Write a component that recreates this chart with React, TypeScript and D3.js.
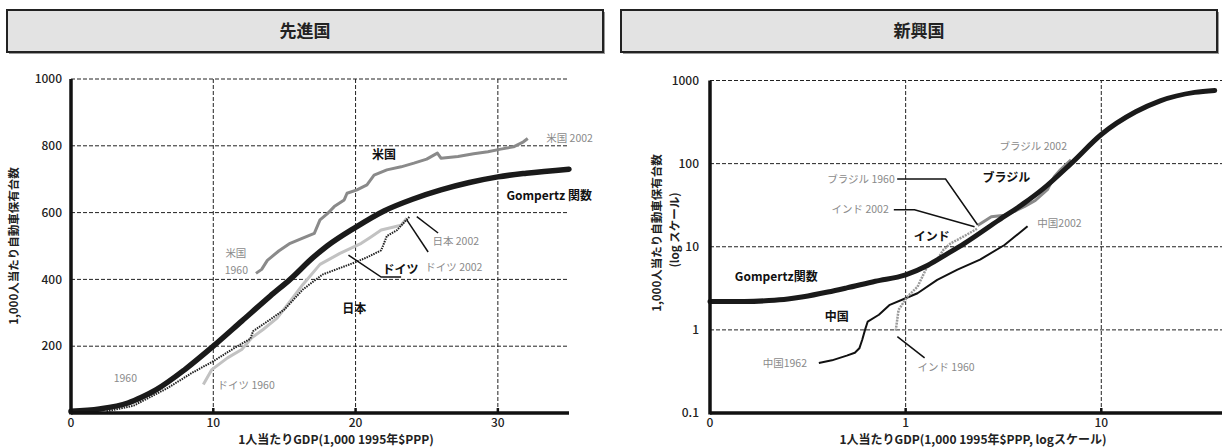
import React from "react";
import * as d3 from "d3";

// ---------- 先進国 (linear scales) ----------
const advXTicks = [0, 10, 20, 30];
const advYTicks = [200, 400, 600, 800, 1000];
const advYTickLabels = ["200", "400", "600", "800", "1000"];

const advGompertz: [number, number][] = [
  [0, 5], [2, 12], [4, 30], [5, 48], [6, 70], [8, 130], [10, 200], [12, 275],
  [14, 350], [15.4, 400], [17, 465], [18, 500], [20, 556], [22, 605], [24, 640],
  [26, 668], [28, 690], [30, 707], [32, 718], [35, 730],
];
const usa: [number, number][] = [
  [13.0, 418], [13.4, 430], [13.8, 457], [14.6, 485], [15.4, 508], [16.2, 522],
  [17.1, 538], [17.5, 578], [18.0, 596], [18.5, 618], [19.2, 638], [19.4, 658],
  [20.1, 668], [20.8, 683], [21.3, 712], [22.2, 728], [23.2, 737], [24.1, 748],
  [25.0, 760], [25.5, 772], [25.75, 778], [26.0, 763], [27.2, 768], [28.3, 776],
  [29.3, 782], [30.2, 790], [31.1, 797], [31.8, 812], [32.1, 822],
];
const germany: [number, number][] = [
  [9.3, 85], [9.9, 130], [11.0, 165], [12.0, 190], [12.7, 225], [13.5, 250],
  [14.5, 285], [15.5, 340], [16.3, 385], [17.5, 445], [18.9, 478], [20.4, 508],
  [21.0, 525], [21.8, 548], [23.2, 562], [23.6, 583],
];
const japan: [number, number][] = [
  [2.5, 5], [4.4, 22], [6.8, 75], [8.5, 120], [10.0, 155], [11.5, 195],
  [12.6, 222], [12.8, 245], [14.0, 280], [15.0, 310], [16.3, 370], [17.7, 415],
  [19.9, 450], [20.8, 466], [21.8, 487], [22.2, 530], [22.9, 547], [23.5, 575],
  [23.8, 588],
];

// ---------- 新興国 (log scales) ----------
const emgXTicks = [0.1, 1, 10];
const emgXTickLabels = ["0", "1", "10"];
const emgYTicks = [0.1, 1, 10, 100, 1000];
const emgYTickLabels = ["0.1", "1", "10", "100", "1000"];

const emgGompertz: [number, number][] = [
  [0.1, 2.2], [0.15, 2.2], [0.2, 2.25], [0.25, 2.35], [0.3, 2.5], [0.4, 2.85],
  [0.5, 3.2], [0.7, 3.85], [1, 4.6], [1.3, 6], [1.6, 8], [2, 11], [3, 21],
  [4, 33], [5, 49], [7, 100], [10, 224], [15, 420], [20, 570], [30, 720], [38, 760],
];
const china: [number, number][] = [
  [0.36, 0.4], [0.42, 0.43], [0.5, 0.49], [0.55, 0.53], [0.58, 0.6], [0.6, 0.76],
  [0.62, 1.0], [0.64, 1.26], [0.73, 1.52], [0.83, 2.0], [1.0, 2.4], [1.15, 2.76],
  [1.45, 4.0], [1.84, 5.3], [2.4, 7.0], [3.2, 10.5], [4.2, 17.6],
];
const india: [number, number][] = [
  [0.89, 0.98], [0.92, 1.74], [1.02, 2.5], [1.15, 3.3], [1.29, 5.8], [1.45, 7.0],
  [1.56, 9.2], [1.7, 11], [1.98, 13.3], [2.32, 16.5],
];
const brazil: [number, number][] = [
  [2.33, 18], [2.5, 20], [2.74, 23], [3.2, 24], [3.6, 26.6], [4.06, 30.6],
  [4.6, 36], [5.3, 48.6], [5.76, 70], [6.2, 85], [6.7, 101], [7.0, 111],
];

const JP = "'Noto Sans CJK JP', 'Noto Sans', sans-serif";
const GRAY = "#8a8a8a";

type Label = { t: string; x: number; y: number; bold?: boolean; gray?: boolean; anchor?: string };

function TitleBox({ x, w, title }: { x: number; w: number; title: string }) {
  return (
    <g>
      <rect x={x + 2} y={12} width={w} height={42} fill="#9a9a9a" />
      <rect x={x} y={10} width={w} height={42} fill="#e3e3e3" stroke="#222" strokeWidth={2} />
      <text x={x + w / 2} y={37} textAnchor="middle" fontFamily={JP} fontWeight={700} fontSize={17} fill="#222">
        {title}
      </text>
    </g>
  );
}

function Labels({ items, sx, sy }: { items: Label[]; sx: (v: number) => number; sy: (v: number) => number }) {
  return (
    <g fontFamily={JP}>
      {items.map((l, i) => (
        <text
          key={i}
          x={sx(l.x)}
          y={sy(l.y)}
          dy="0.35em"
          textAnchor={l.anchor || "start"}
          fontSize={l.bold ? 12 : 10.5}
          fontWeight={l.bold ? 700 : 400}
          fill={l.gray ? GRAY : "#111"}
        >
          {l.t}
        </text>
      ))}
    </g>
  );
}

function Advanced() {
  const x = d3.scaleLinear().domain([0, 35]).range([71, 569]);
  const y = d3.scaleLinear().domain([0, 1000]).range([413, 79]);
  const smooth = d3.line<[number, number]>().x((d) => x(d[0])).y((d) => y(d[1])).curve(d3.curveMonotoneX);
  const jag = d3.line<[number, number]>().x((d) => x(d[0])).y((d) => y(d[1]));

  const labels: Label[] = [
    { t: "米国", x: 22.0, y: 772, bold: true, anchor: "middle" },
    { t: "米国 2002", x: 33.4, y: 823, gray: true },
    { t: "Gompertz 関数", x: 30.6, y: 650, bold: true },
    { t: "日本 2002", x: 25.4, y: 515, gray: true },
    { t: "ドイツ", x: 21.9, y: 430, bold: true },
    { t: "ドイツ 2002", x: 24.9, y: 437, gray: true },
    { t: "日本", x: 19.9, y: 311, bold: true, anchor: "middle" },
    { t: "米国", x: 10.85, y: 479, gray: true },
    { t: "1960", x: 10.8, y: 428, gray: true },
    { t: "1960", x: 3.0, y: 105, gray: true },
    { t: "ドイツ 1960", x: 10.3, y: 84, gray: true },
  ];
  const pointers: [number, number][][] = [
    [[19.5, 473], [21.8, 407], [23.2, 407]],
    [[24.3, 588], [25.8, 539]],
    [[23.6, 578], [25.1, 482]],
  ];

  return (
    <g>
      <TitleBox x={7} w={596} title="先進国" />
      {/* grid */}
      <g stroke="#222" strokeWidth={1} strokeDasharray="4,2" fill="none">
        {advYTicks.map((t) => (
          <line key={t} x1={x(0)} x2={x(35)} y1={y(t)} y2={y(t)} />
        ))}
        {advXTicks.slice(1).map((t) => (
          <line key={t} x1={x(t)} x2={x(t)} y1={y(0)} y2={y(1000)} />
        ))}
      </g>
      {advXTicks.slice(1).map((t) => (
        <line key={t} x1={x(t)} x2={x(t)} y1={y(0)} y2={y(0) - 5} stroke="#111" strokeWidth={2.5} />
      ))}
      {/* series */}
      <path d={jag(germany) || ""} fill="none" stroke="#c2c2c2" strokeWidth={3} strokeLinejoin="round" />
      <path d={jag(japan) || ""} fill="none" stroke="#222" strokeWidth={2} strokeDasharray="1.5,1" />
      <path d={jag(usa) || ""} fill="none" stroke={GRAY} strokeWidth={3} strokeLinejoin="round" />
      <path d={smooth(advGompertz) || ""} fill="none" stroke="#1a1a1a" strokeWidth={5.5} strokeLinecap="round" />
      {/* callouts */}
      {pointers.map((p, i) => (
        <path key={i} d={jag(p) || ""} fill="none" stroke="#111" strokeWidth={1.5} />
      ))}
      <Labels items={labels} sx={x} sy={y} />
      {/* axes */}
      <line x1={x(0)} x2={x(0)} y1={y(1000)} y2={y(0) + 1.5} stroke="#111" strokeWidth={3.5} />
      <line x1={x(0)} x2={x(35)} y1={y(0)} y2={y(0)} stroke="#111" strokeWidth={3.5} />
      <g fontFamily={JP} fontSize={12} fontWeight={500} fill="#222">
        {advYTicks.map((t, i) => (
          <text key={t} x={62} y={y(t)} dy="0.35em" textAnchor="end">
            {advYTickLabels[i]}
          </text>
        ))}
        {advXTicks.map((t) => (
          <text key={t} x={x(t)} y={427} textAnchor="middle">
            {t}
          </text>
        ))}
        <text x={336} y={444} textAnchor="middle" fontWeight={700}>
          1人当たりGDP(1,000 1995年$PPP)
        </text>
        <text transform="translate(18,246) rotate(-90)" textAnchor="middle" fontWeight={700} fontSize={11.5}>
          1,000人当たり自動車保有台数
        </text>
      </g>
    </g>
  );
}

function Emerging() {
  const x = d3.scaleLog().domain([0.1, 41.4]).range([710, 1222]);
  const y = d3.scaleLog().domain([0.1, 1000]).range([413, 80.5]);
  const smooth = d3.line<[number, number]>().x((d) => x(d[0])).y((d) => y(d[1])).curve(d3.curveMonotoneX);
  const jag = d3.line<[number, number]>().x((d) => x(d[0])).y((d) => y(d[1]));

  const labels: Label[] = [
    { t: "Gompertz関数", x: 0.134, y: 4.35, bold: true },
    { t: "中国", x: 0.386, y: 1.43, bold: true },
    { t: "中国1962", x: 0.186, y: 0.4, gray: true },
    { t: "インド 1960", x: 1.15, y: 0.358, gray: true },
    { t: "インド", x: 1.1, y: 13.2, bold: true },
    { t: "ブラジル", x: 2.47, y: 67.8, bold: true },
    { t: "ブラジル 1960", x: 0.88, y: 64.1, gray: true, anchor: "end" },
    { t: "インド 2002", x: 0.82, y: 27.9, gray: true, anchor: "end" },
    { t: "ブラジル 2002", x: 3.02, y: 160, gray: true },
    { t: "中国2002", x: 4.71, y: 18.9, gray: true },
  ];
  const pointers: [number, number][][] = [
    [[0.905, 65.4], [1.6, 65.4], [2.33, 18.4]],
    [[0.87, 27.9], [1.11, 27.9], [2.25, 17.4]],
    [[0.907, 0.83], [1.25, 0.46]],
  ];

  return (
    <g>
      <TitleBox x={621} w={596} title="新興国" />
      <g stroke="#222" strokeWidth={1} strokeDasharray="4,2" fill="none">
        {emgYTicks.slice(1).map((t) => (
          <line key={t} x1={x(0.1)} x2={1222} y1={y(t)} y2={y(t)} />
        ))}
        {emgXTicks.slice(1).map((t) => (
          <line key={t} x1={x(t)} x2={x(t)} y1={y(0.1)} y2={y(1000)} />
        ))}
      </g>
      {emgXTicks.slice(1).map((t) => (
        <line key={t} x1={x(t)} x2={x(t)} y1={y(0.1)} y2={y(0.1) - 5} stroke="#111" strokeWidth={2.5} />
      ))}
      <path d={jag(china) || ""} fill="none" stroke="#111" strokeWidth={2} strokeLinejoin="round" />
      <path d={jag(india) || ""} fill="none" stroke="#9a9a9a" strokeWidth={2.5} strokeDasharray="2,1" />
      <path d={jag(brazil) || ""} fill="none" stroke={GRAY} strokeWidth={3} strokeLinejoin="round" />
      <path d={smooth(emgGompertz) || ""} fill="none" stroke="#1a1a1a" strokeWidth={5} strokeLinecap="round" />
      {pointers.map((p, i) => (
        <path key={i} d={jag(p) || ""} fill="none" stroke="#111" strokeWidth={1.5} />
      ))}
      <Labels items={labels} sx={x} sy={y} />
      <line x1={x(0.1)} x2={x(0.1)} y1={y(1000)} y2={y(0.1) + 1.5} stroke="#111" strokeWidth={3.5} />
      <line x1={x(0.1)} x2={1222} y1={y(0.1)} y2={y(0.1)} stroke="#111" strokeWidth={3.5} />
      <g fontFamily={JP} fontSize={12} fontWeight={500} fill="#222">
        {emgYTicks.map((t, i) => (
          <text key={t} x={699} y={y(t)} dy="0.35em" textAnchor="end">
            {emgYTickLabels[i]}
          </text>
        ))}
        {emgXTicks.map((t, i) => (
          <text key={t} x={x(t)} y={427} textAnchor="middle">
            {emgXTickLabels[i]}
          </text>
        ))}
        <text x={973} y={444} textAnchor="middle" fontWeight={700}>
          1人当たりGDP(1,000 1995年$PPP, logスケール)
        </text>
        <text transform="translate(661,233) rotate(-90)" textAnchor="middle" fontWeight={700} fontSize={11.5}>
          1,000人当たり自動車保有台数
        </text>
        <text transform="translate(679,230) rotate(-90)" textAnchor="middle" fontWeight={700} fontSize={11.5}>
          (log スケール)
        </text>
      </g>
    </g>
  );
}

export default function App() {
  return (
    <svg
      width={1224}
      height={447}
      viewBox="0 0 1224 447"
      style={{ position: "absolute", left: 0, top: 0, background: "#fff" }}
    >
      <rect width={1224} height={447} fill="#fff" />
      <Advanced />
      <Emerging />
    </svg>
  );
}
